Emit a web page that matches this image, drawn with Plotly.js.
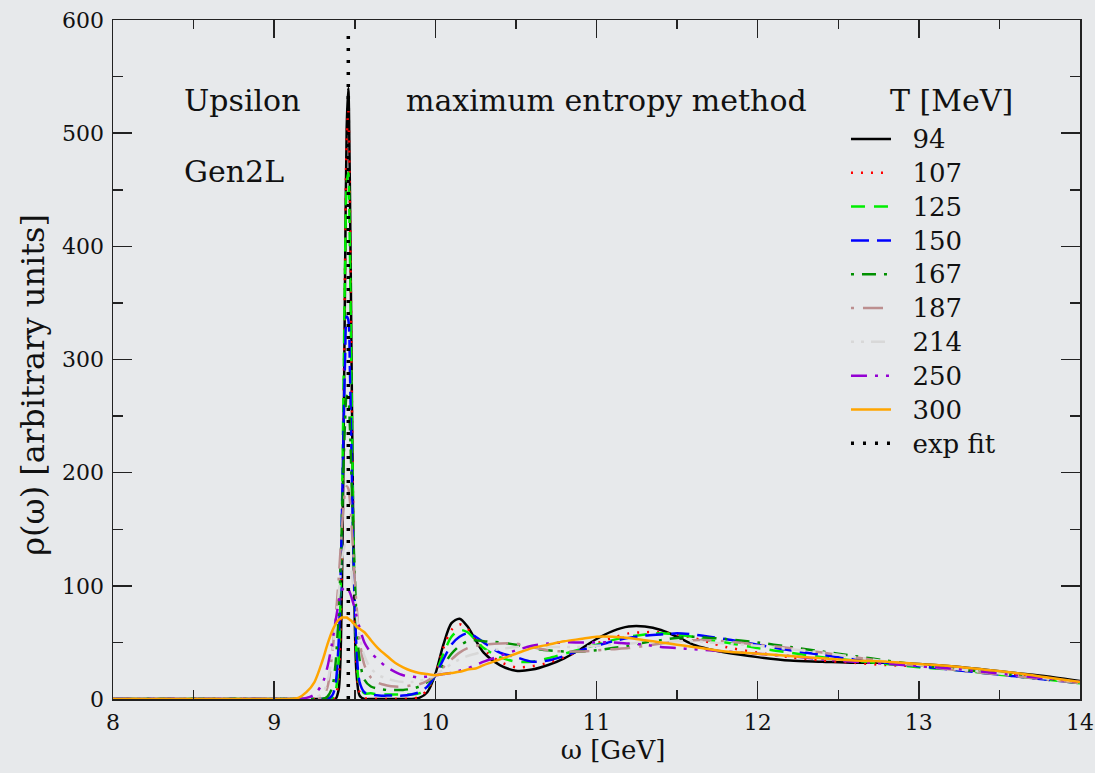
<!DOCTYPE html>
<html>
<head>
<meta charset="utf-8">
<script src="https://cdn.plot.ly/plotly-3.0.1.min.js"></script>
<style>
  html, body { margin: 0; padding: 0; background: #e7e9eb; }
  #chart { width: 1095px; height: 773px; }
</style>
</head>
<body>
<div id="chart"></div>
<script>
// Energy grid omega [GeV], dense around the 1S peak
const omega = [
  8.0, 9.0, 9.1, 9.15, 9.2, 9.25, 9.3, 9.33, 9.36, 9.38,
  9.40, 9.41, 9.42, 9.43, 9.44, 9.45, 9.46, 9.47, 9.48, 9.49,
  9.50, 9.51, 9.53, 9.56, 9.6, 9.65, 9.7, 9.75, 9.8, 9.85,
  9.9, 9.95, 10.0, 10.05, 10.1, 10.15, 10.2, 10.25, 10.3, 10.4,
  10.5, 10.6, 10.7, 10.8, 10.9, 11.0, 11.1, 11.2, 11.3, 11.4,
  11.5, 11.6, 11.7, 11.8, 12.0, 12.2, 12.4, 12.6, 12.8, 13.0,
  13.2, 13.4, 13.6, 13.8, 14.0
];

// Spectral functions rho(omega) for each temperature T [MeV]
const rhoT94 = [
  0, 0, 0, 0, 0, 0, 0, 0, 0, 0,
  8, 30, 95, 215, 375, 505, 540, 450, 300, 160,
  70, 25, 3, 0, 0, 0, 0, 0, 0, 0,
  1, 6, 22, 48, 67, 71, 64, 52, 41, 30,
  25, 26, 30, 36, 44, 53, 60, 64, 64, 61,
  55, 48, 44, 41, 37, 34, 33, 32, 32, 31,
  29, 26, 23, 20, 16
];
const rhoT107 = [
  0, 0, 0, 0, 0, 0, 0, 0, 0, 2,
  18, 50, 125, 245, 385, 495, 520, 435, 295, 165,
  80, 32, 6, 1, 0, 0, 0, 0, 0, 0,
  2, 8, 22, 45, 61, 66, 62, 53, 44, 33,
  28, 29, 32, 37, 43, 49, 54, 58, 59, 59,
  57, 54, 50, 46, 41, 37, 34, 32, 30, 29,
  27, 24, 21, 18, 15
];
const rhoT125 = [
  0, 0, 0, 0, 0, 0, 0, 0, 1, 6,
  35, 80, 160, 270, 385, 455, 465, 395, 275, 165,
  88, 42, 12, 5, 5, 4, 4, 4, 4, 4,
  5, 10, 22, 40, 55, 61, 59, 52, 45, 37,
  33, 33, 36, 40, 44, 48, 52, 55, 57, 58,
  57, 55, 52, 50, 45, 41, 37, 34, 31, 28,
  26, 23, 20, 17, 14
];
const rhoT150 = [
  0, 0, 0, 0, 0, 0, 0, 0, 3, 12,
  50, 95, 160, 235, 300, 338, 335, 290, 215, 140,
  85, 48, 15, 6, 4, 3, 3, 3, 3, 4,
  6, 11, 21, 35, 48, 55, 58, 55, 50, 41,
  37, 33, 34, 38, 43, 47, 51, 54, 56, 57,
  58, 57, 55, 53, 48, 43, 39, 35, 32, 29,
  26, 23, 20, 17, 14
];
const rhoT167 = [
  0, 0, 0, 0, 0, 0, 0, 2, 10, 30,
  75, 110, 155, 205, 245, 268, 265, 240, 195, 150,
  110, 75, 35, 17, 11, 9, 8, 8, 8, 9,
  11, 15, 21, 30, 40, 47, 51, 52, 51, 50,
  48, 45, 43, 42, 42, 43, 45, 47, 50, 52,
  54, 55, 54, 53, 50, 46, 42, 38, 34, 30,
  27, 24, 21, 18, 14
];
const rhoT187 = [
  0, 0, 0, 0, 0, 0, 2, 10, 40, 70,
  105, 128, 150, 170, 183, 188, 186, 175, 155, 130,
  105, 85, 52, 30, 19, 14, 12, 11, 11, 12,
  13, 16, 21, 28, 35, 41, 45, 47, 48, 49,
  49, 46, 43, 42, 42, 43, 44, 45, 47, 49,
  51, 52, 52, 51, 48, 45, 41, 37, 33, 29,
  26, 23, 20, 17, 14
];
const rhoT214 = [
  0, 0, 0, 0, 0, 1, 5, 15, 40, 65,
  92, 108, 122, 131, 136, 136, 132, 124, 113, 100,
  88, 76, 56, 38, 27, 21, 18, 16, 15, 15,
  16, 18, 21, 26, 31, 35, 38, 40, 42, 44,
  46, 46, 46, 46, 46, 47, 48, 49, 50, 50,
  51, 51, 50, 49, 47, 44, 41, 37, 33, 30,
  27, 24, 21, 18, 15
];
const rhoT250 = [
  0, 0, 0, 0, 1, 4, 14, 28, 50, 68,
  85, 92, 96, 98, 99, 99, 97, 94, 90, 85,
  80, 74, 63, 50, 41, 34, 28, 24, 21, 20,
  19, 20, 21, 22, 23, 25, 27, 30, 33, 38,
  43, 47, 49, 50, 50, 50, 50, 49, 48, 46,
  45, 44, 43, 42, 40, 38, 35, 33, 31, 29,
  27, 24, 21, 18, 15
];
const rhoT300 = [
  0, 0, 0, 1, 6, 15, 34, 48, 60, 66,
  70, 71, 72, 72, 72, 72, 71, 70, 69, 67,
  66, 64, 62, 59, 52, 44, 38, 32, 28, 25,
  23, 22, 21, 22, 23, 24, 26, 27, 30, 35,
  40, 45, 48, 51, 53, 55, 55, 54, 52, 50,
  48, 46, 44, 42, 40, 38, 36, 34, 33, 31,
  29, 26, 23, 19, 15
];

// Ground-state mass from the exponential fit (delta peak)
const expFitOmega = [9.46, 9.46];
const expFitRho = [0, 588];

const tempLabels = ['94', '107', '125', '150', '167', '187', '214', '250', '300'];
const series = [rhoT94, rhoT107, rhoT125, rhoT150, rhoT167, rhoT187, rhoT214, rhoT250, rhoT300];

const styles = [
  {color: '#000000', dash: 'solid'},
  {color: '#ff0000', dash: '2px,8px'},
  {color: '#00ee00', dash: '14px,9px'},
  {color: '#0000ff', dash: '18px,8px'},
  {color: '#009000', dash: '3px,8px,14px,8px'},
  {color: '#bc8f8f', dash: '3px,9px,20px,9px'},
  {color: '#d8d8d8', dash: '3px,7px,3px,7px,14px,7px'},
  {color: '#9400d3', dash: '16px,8px,3px,8px,3px,8px'},
  {color: '#ffa500', dash: 'solid'}
];

const serif = 'DejaVu Serif';

const legendName = t => '<span style="font-size:26px">&nbsp;&nbsp;' + t + '</span>';

const traces = series.map((ys, i) => ({
  x: omega,
  y: ys,
  type: 'scatter',
  mode: 'lines',
  name: legendName(tempLabels[i]),
  line: {color: styles[i].color, dash: styles[i].dash, width: 2.5, shape: 'spline', smoothing: 0.8}
}));

traces.push({
  x: expFitOmega,
  y: expFitRho,
  type: 'scatter',
  mode: 'lines',
  name: legendName('exp fit'),
  line: {color: '#000000', dash: '3px,9px', width: 3.5}
});

const axisCommon = {
  showline: true,
  linecolor: '#222',
  linewidth: 1.5,
  mirror: 'ticks',
  ticks: 'inside',
  tickcolor: '#222',
  tickwidth: 1.5,
  showgrid: false,
  zeroline: false,
  tickfont: {family: serif, size: 22, color: '#111'}
};

const textNote = (x, y, text) => ({
  x: x, y: y, xref: 'x', yref: 'y', text: text, showarrow: false,
  xanchor: 'left', yanchor: 'middle',
  font: {family: serif, size: 30, color: '#111'}
});

const layout = {
  width: 1095,
  height: 773,
  margin: {l: 113, r: 15, t: 20, b: 74, pad: 0},
  paper_bgcolor: '#e7e9eb',
  plot_bgcolor: '#e7e9eb',
  font: {family: serif, color: '#111'},
  showlegend: true,
  xaxis: Object.assign({}, axisCommon, {
    range: [8, 14],
    tick0: 8,
    dtick: 1,
    ticklen: 18,
    ticklabelstandoff: 3,
    minor: {dtick: 0.5, ticks: 'inside', ticklen: 9, tickcolor: '#222', tickwidth: 1.5},
    title: {text: '&nbsp;&nbsp;&nbsp;&nbsp;ω [GeV]', font: {family: serif, size: 26, color: '#111'}, standoff: 4}
  }),
  yaxis: Object.assign({}, axisCommon, {
    range: [0, 600],
    tick0: 0,
    dtick: 100,
    ticklen: 19,
    ticklabelstandoff: 3,
    minor: {dtick: 50, ticks: 'inside', ticklen: 10, tickcolor: '#222', tickwidth: 1.5},
    title: {text: 'ρ(ω) [arbitrary units]&nbsp;&nbsp;&nbsp;&nbsp;&nbsp;', font: {family: serif, size: 32, color: '#111'}, standoff: 8}
  }),
  legend: {
    x: 0.758,
    y: 0.857,
    xanchor: 'left',
    yanchor: 'top',
    bgcolor: 'rgba(0,0,0,0)',
    borderwidth: 0,
    itemwidth: 40,
    font: {family: serif, size: 23.7, color: '#111'}
  },
  annotations: [
    textNote(8.43, 529, 'Upsilon'),
    textNote(8.43, 466, 'Gen2L'),
    textNote(9.805, 529, 'maximum entropy method'),
    textNote(12.81, 529, 'T [MeV]')
  ]
};

Plotly.newPlot('chart', traces, layout, {displayModeBar: false, staticPlot: true});
</script>
</body>
</html>
